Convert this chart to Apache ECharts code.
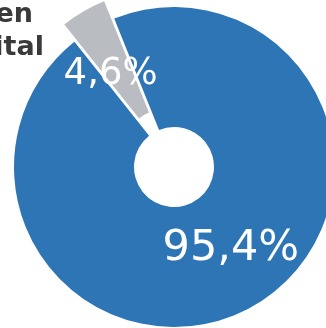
<!DOCTYPE html>
<html>
<head>
<meta charset="utf-8">
<script src="https://cdn.jsdelivr.net/npm/echarts@6/dist/echarts.min.js"></script>
<style>html,body{margin:0;padding:0;background:#fff}#c{width:326px;height:328px}</style>
</head>
<body>
<div id="c"></div>
<script>
var categories = ['Origen capital', 'Resto'];
var titleLines = ['Origen', 'capital'];
var values = [4.6, 95.4];
var labels = ['4,6%', '95,4%'];
var colors = ['#b9bcc1', '#2e75b6'];

var labelSizes = [37, 43];
var labelOffsets = [[-1.5, 13.5], [5, -7]];

var chart = echarts.init(document.getElementById('c'), null, {renderer: 'canvas'});
chart.setOption({
  animation: false,
  graphic: [{
    type: 'text',
    right: 293,
    top: 1,
    style: {
      text: titleLines[0],
      font: 'bold 27px "DejaVu Sans"',
      fill: '#3a3a3a',
      textAlign: 'right',
      lineHeight: 27
    }
  }, {
    type: 'text',
    right: 282,
    top: 34,
    style: {
      text: titleLines[1],
      font: 'bold 27px "DejaVu Sans"',
      fill: '#3a3a3a',
      textAlign: 'right',
      lineHeight: 27
    }
  }],
  series: [{
    type: 'pie',
    center: [174, 167],
    radius: [40, 160],
    startAngle: 128.5,
    clockwise: true,
    selectedMode: 'single',
    selectedOffset: 20,
    avoidLabelOverlap: false,
    itemStyle: {borderColor: '#fff', borderWidth: 0},
    label: {
      show: true,
      position: 'inside',
      color: '#fff',
      fontFamily: 'DejaVu Sans',
      fontSize: 43,
      formatter: function (p) { return labels[p.dataIndex]; }
    },
    labelLine: {show: false},
    emphasis: {disabled: true},
    data: values.map(function (v, i) {
      var lbl = {fontSize: labelSizes[i], offset: labelOffsets[i], color: '#fff'};
      return {
        value: v, name: categories[i], selected: i === 0,
        itemStyle: {color: colors[i]},
        label: lbl,
        select: {label: lbl, itemStyle: {color: colors[i]}}
      };
    })
  }]
});
</script>
</body>
</html>
